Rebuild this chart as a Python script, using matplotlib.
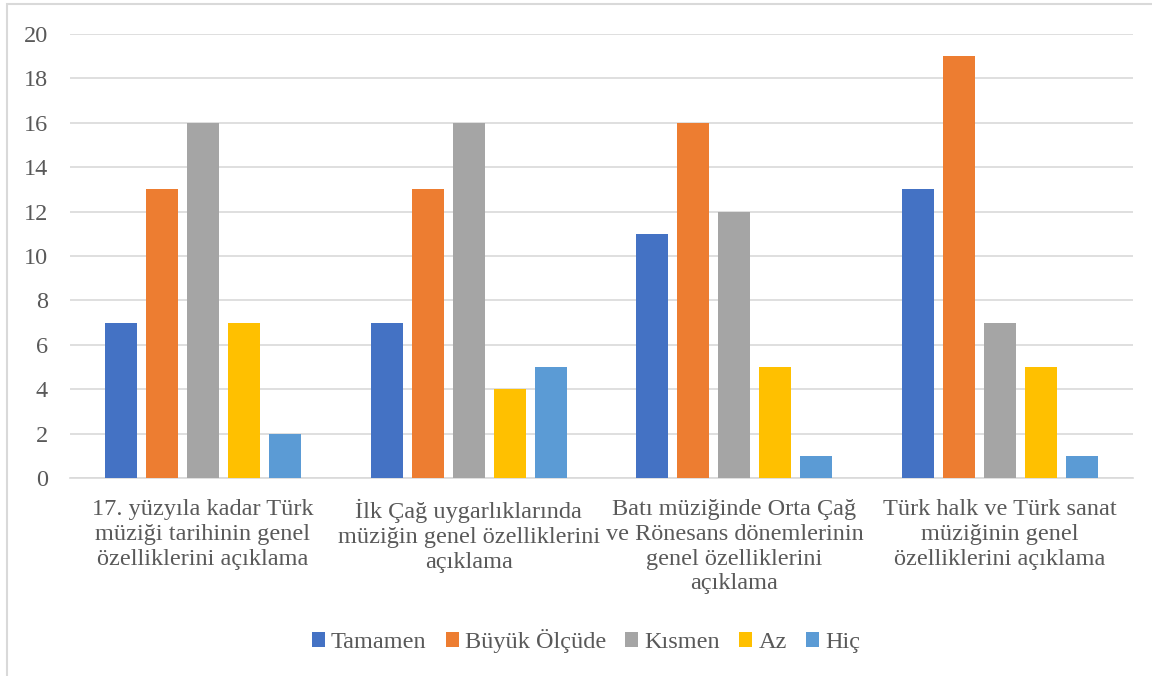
import matplotlib.pyplot as plt
import numpy as np
from matplotlib.patches import Rectangle

categories = [
    "17. yüzyıla kadar Türk\nmüziği tarihinin genel\nözelliklerini açıklama",
    "İlk Çağ uygarlıklarında\nmüziğin genel özelliklerini\naçıklama",
    "Batı müziğinde Orta Çağ\nve Rönesans dönemlerinin\ngenel özelliklerini\naçıklama",
    "Türk halk ve Türk sanat\nmüziğinin genel\nözelliklerini açıklama",
]
series_names = ["Tamamen", "Büyük Ölçüde", "Kısmen", "Az", "Hiç"]
tamamen = [7, 7, 11, 13]
buyuk = [13, 13, 16, 19]
kismen = [16, 16, 12, 7]
az = [7, 4, 5, 5]
hic = [2, 5, 1, 1]
colors = ["#4472C4", "#ED7D31", "#A5A5A5", "#FFC000", "#5B9BD5"]
yticks = list(range(0, 21, 2))

plt.rcParams['font.family'] = ['Liberation Serif', 'DejaVu Serif']
fig = plt.figure(figsize=(11.52, 6.76), dpi=100)
ax = fig.add_axes([70/1152, 1-478/676, 1063/1152, 444/676])

data = [tamamen, buyuk, kismen, az, hic]
x = np.arange(len(categories))
step = 41/265.75
width = 32/265.75
for i, (name, vals, c) in enumerate(zip(series_names, data, colors)):
    ax.bar(x + (i-2)*step, vals, width, color=c, label=name, zorder=3)

ax.set_xlim(-0.5, 3.5)
ax.set_ylim(0, 20)
ax.set_yticks(yticks)
ax.yaxis.grid(True, color="#D9D9D9", linewidth=1.2, zorder=0)
for s in ["top", "right", "left"]:
    ax.spines[s].set_visible(False)
ax.spines["bottom"].set_color("#D9D9D9")
ax.spines["bottom"].set_linewidth(1.2)
ax.tick_params(axis="both", length=0, labelsize=17.5, colors="#595959")
ax.tick_params(axis="y", pad=16)
ax.tick_params(axis="x", pad=15)
ax.set_xticks(x)
ax.set_xticklabels(categories, linespacing=1.24)

leg = fig.legend(loc="center", bbox_to_anchor=(586/1152, 1-641/676), ncol=5,
                 frameon=False, fontsize=17.5, handlelength=0.53, handleheight=0.53,
                 handletextpad=0.25, columnspacing=0.8)
for t in leg.get_texts():
    t.set_color("#595959")

fig.patches.append(Rectangle((7/1152, -0.1), 1.2, 1 - 4/676 + 0.1, transform=fig.transFigure,
                             fill=False, edgecolor="#D9D9D9", linewidth=1.5))

fig.savefig("out.png", dpi=100)
